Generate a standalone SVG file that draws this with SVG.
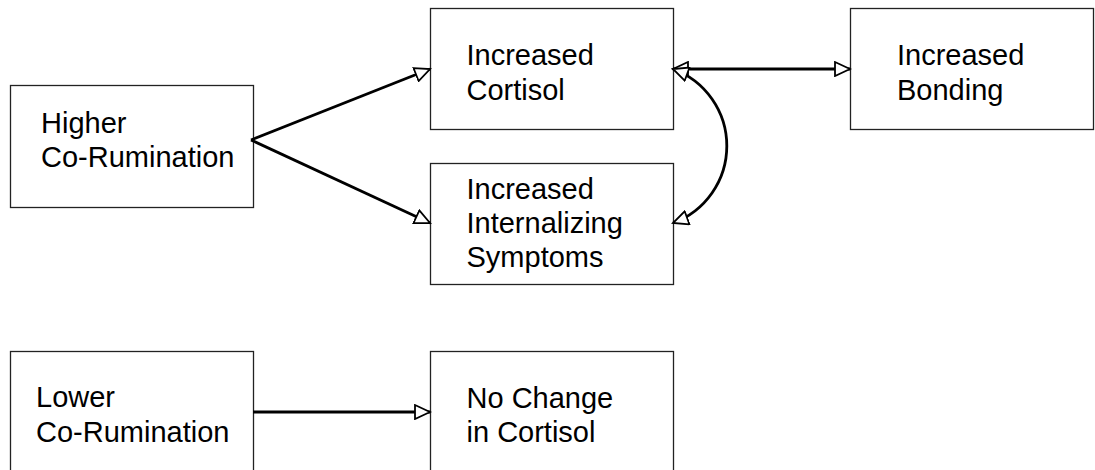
<svg xmlns="http://www.w3.org/2000/svg" width="1095" height="470" viewBox="0 0 1095 470">
<style>
.box{fill:#fff;stroke:#222;stroke-width:1.3}
.t{font-family:"Liberation Sans",Arial,sans-serif;font-size:29px;fill:#000}
.c{fill:none;stroke:#000;stroke-width:2.8}
</style>
<defs>
<marker id="ah" markerUnits="userSpaceOnUse" markerWidth="18" markerHeight="16" refX="15" refY="7" orient="auto-start-reverse" viewBox="-1 -1 18 16">
<path d="M0,0 L15,7 L0,14 Z" fill="#fff" stroke="#000" stroke-width="1.8" stroke-linejoin="miter"/>
</marker>
</defs>
<rect width="1095" height="470" fill="#fff"/>
<g id="higher"><rect class="box" x="10.5" y="85.5" width="243" height="122"/>
<text class="t" x="41" y="133">Higher</text><text class="t" x="41" y="166.5">Co-Rumination</text></g>
<g id="cortisol"><rect class="box" x="430.5" y="8.5" width="243" height="121"/>
<text class="t" x="466.5" y="65">Increased</text><text class="t" x="466.5" y="100">Cortisol</text></g>
<g id="internalizing"><rect class="box" x="430.5" y="163.5" width="243" height="121"/>
<text class="t" x="466.5" y="198.5">Increased</text><text class="t" x="466.5" y="232.5">Internalizing</text><text class="t" x="466.5" y="266.5">Symptoms</text></g>
<g id="bonding"><rect class="box" x="850.5" y="8.5" width="243" height="121"/>
<text class="t" x="897" y="65">Increased</text><text class="t" x="897" y="100">Bonding</text></g>
<g id="lower"><rect class="box" x="10.5" y="351.5" width="243" height="130"/>
<text class="t" x="36" y="406.5">Lower</text><text class="t" x="36" y="441.5">Co-Rumination</text></g>
<g id="nochange"><rect class="box" x="430.5" y="351.5" width="243" height="130"/>
<text class="t" x="466.5" y="408">No Change</text><text class="t" x="466.5" y="441.5">in Cortisol</text></g>
<g id="connectors">
<path class="c" d="M251,140 L430,69" marker-end="url(#ah)"/>
<path class="c" d="M251,140 L430,223" marker-end="url(#ah)"/>
<path class="c" d="M673,69 L850,69" stroke-width="2" marker-start="url(#ah)" marker-end="url(#ah)"/>
<path class="c" d="M673,69 A82,82 0 0,1 673,223" marker-start="url(#ah)" marker-end="url(#ah)"/>
<path class="c" d="M253,412 L430,412" stroke-width="2.2" marker-end="url(#ah)"/>
</g>
</svg>
